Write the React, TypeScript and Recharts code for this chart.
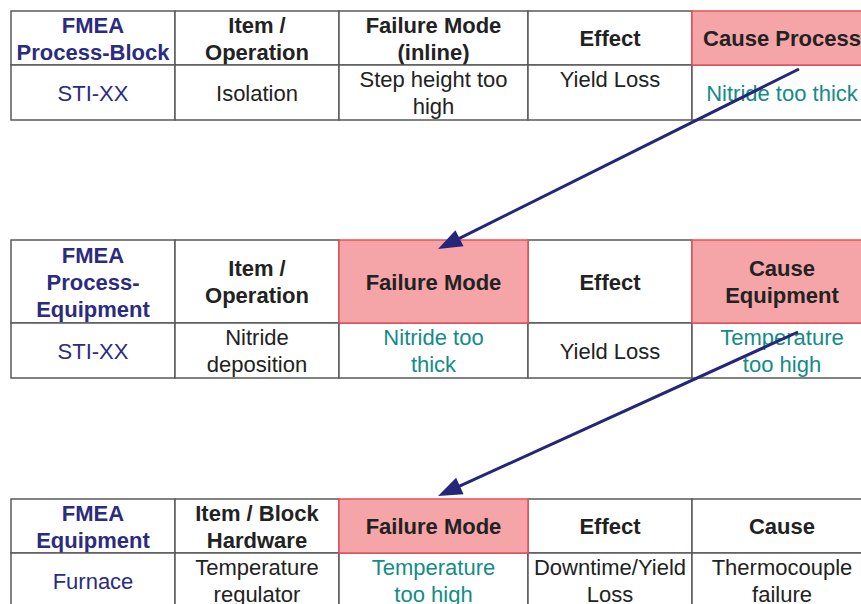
import React from "react";
import { ComposedChart, XAxis, YAxis, ReferenceArea, ReferenceLine } from "recharts";

// table contents, one pair of arrays per FMEA level
const processBlockHeaders = ["FMEA\nProcess-Block", "Item /\nOperation", "Failure Mode\n(inline)", "Effect", "Cause Process"];
const processBlockRow = ["STI-XX", "Isolation", "Step height too\nhigh", "Yield Loss\n", "Nitride too thick"];

const processEquipmentHeaders = ["FMEA\nProcess-\nEquipment", "Item /\nOperation", "Failure Mode", "Effect", "Cause\nEquipment"];
const processEquipmentRow = ["STI-XX", "Nitride\ndeposition", "Nitride too\nthick", "Yield Loss", "Temperature\ntoo high"];

const equipmentHeaders = ["FMEA\nEquipment", "Item / Block\nHardware", "Failure Mode", "Effect", "Cause"];
const equipmentRow = ["Furnace", "Temperature\nregulator", "Temperature\ntoo high", "Downtime/Yield\nLoss", "Thermocouple\nfailure"];

// layout (pixels of the 861x604 canvas)
const W = 861;
const H = 604;
const COL_EDGES = [11, 175, 339, 528, 692, 872];
const tables = [
  { top: 11, headH: 54, bodyH: 55, headers: processBlockHeaders, row: processBlockRow, marked: [4] },
  { top: 240, headH: 83, bodyH: 55, headers: processEquipmentHeaders, row: processEquipmentRow, marked: [2, 4] },
  { top: 499, headH: 54, bodyH: 55, headers: equipmentHeaders, row: equipmentRow, marked: [2] },
];
const arrows = [
  [{ x: 799, y: 69 }, { x: 438, y: 249 }],
  [{ x: 798, y: 332 }, { x: 438, y: 496 }],
];

const NAVY = "#2b2c80";
const INK = "#222222";
const TEAL = "#138c87";
const PINK = "#f5a4a7";
const RED = "#e6505a";
const GRID = "#5a5a5a";
const FONT = "'Liberation Sans', Arial, sans-serif";

const CellText = (props: any) => {
  const vb = props.viewBox || {};
  const { x = 0, y = 0, width = 0, height = 0 } = vb;
  const lines: string[] = props.text.split("\n");
  const lh = 27;
  const cx = x + width / 2;
  const start = y + height / 2 - ((lines.length - 1) * lh) / 2 + 8;
  return (
    <text textAnchor="middle" fontFamily={FONT} fontSize={22} fontWeight={props.bold ? "bold" : "normal"} fill={props.color}>
      {lines.map((l, i) => (
        <tspan key={i} x={cx} y={start + i * lh}>
          {l}
        </tspan>
      ))}
    </text>
  );
};

const Arrow = (p: any) => {
  const { x1, y1, x2, y2 } = p;
  const ang = Math.atan2(y2 - y1, x2 - x1);
  const len = 24;
  const half = 9;
  const bx = x2 - len * Math.cos(ang);
  const by = y2 - len * Math.sin(ang);
  const nx = -Math.sin(ang) * half;
  const ny = Math.cos(ang) * half;
  return (
    <g>
      <line x1={x1} y1={y1} x2={bx + 4 * Math.cos(ang)} y2={by + 4 * Math.sin(ang)} stroke="#25257a" strokeWidth={3} />
      <polygon points={`${x2},${y2} ${bx + nx},${by + ny} ${bx - nx},${by - ny}`} fill="#25257a" />
    </g>
  );
};

const App = () => {
  const cells: any[] = [];
  const marks: any[] = [];
  tables.forEach((t, ti) => {
    const rows = [
      { y1: t.top, y2: t.top + t.headH, texts: t.headers, head: true },
      { y1: t.top + t.headH, y2: t.top + t.headH + t.bodyH, texts: t.row, head: false },
    ];
    rows.forEach((r, ri) => {
      r.texts.forEach((txt, ci) => {
        const pink = r.head && t.marked.includes(ci);
        const color = ci === 0 ? NAVY : !r.head && t.marked.includes(ci) ? TEAL : INK;
        const el = (
          <ReferenceArea
            key={`c-${ti}-${ri}-${ci}`}
            x1={COL_EDGES[ci]}
            x2={COL_EDGES[ci + 1]}
            y1={r.y1}
            y2={r.y2}
            ifOverflow="visible"
            fill={pink ? PINK : "#ffffff"}
            fillOpacity={1}
            stroke={pink ? RED : GRID}
            strokeWidth={1.5}
            label={(lp: any) => <CellText {...lp} text={txt} bold={r.head} color={color} />}
          />
        );
        if (pink) marks.push(el);
        else cells.push(el);
      });
    });
  });

  return (
    <div style={{ position: "absolute", left: 0, top: 0, width: W, height: H, background: "#ffffff" }}>
      <ComposedChart width={W} height={H} data={[]} margin={{ top: 0, right: 0, bottom: 0, left: 0 }}>
        <XAxis type="number" dataKey="x" domain={[0, W]} allowDataOverflow hide />
        <YAxis type="number" dataKey="y" domain={[0, H]} allowDataOverflow reversed hide />
        {cells}
        {marks}
        {arrows.map((seg, i) => (
          <ReferenceLine key={`a-${i}`} segment={seg} ifOverflow="visible" shape={Arrow} />
        ))}
      </ComposedChart>
    </div>
  );
};

export default App;
